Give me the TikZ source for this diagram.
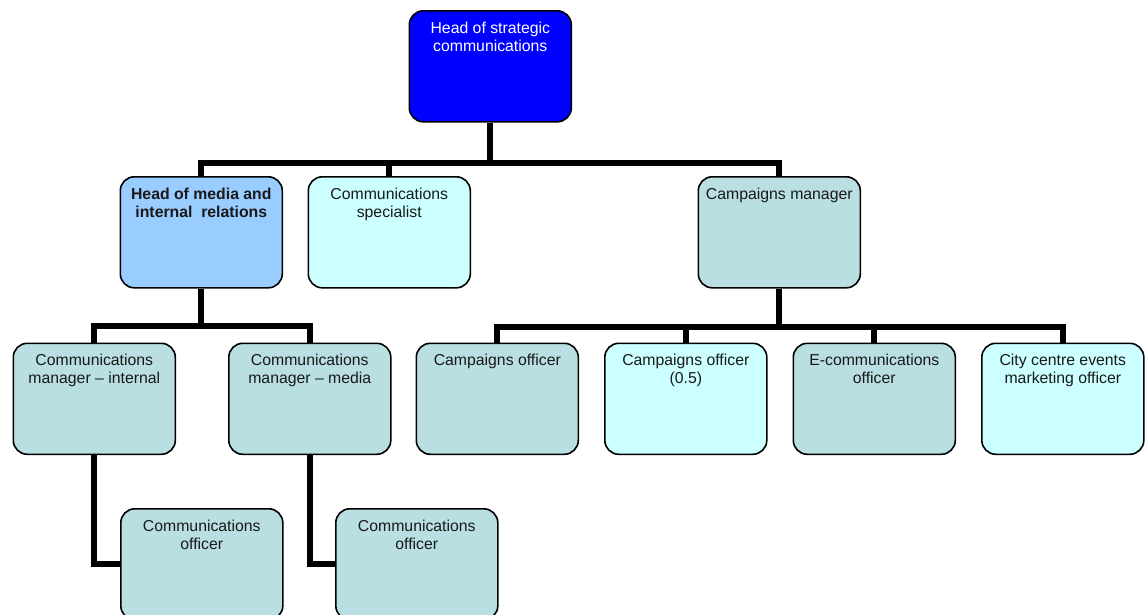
\documentclass[tikz,border=0pt]{standalone}
\usepackage{fontspec}
\setmainfont{Liberation Sans}
\definecolor{topblue}{HTML}{0000FF}
\definecolor{midblue}{HTML}{99CCFF}
\definecolor{lcyan}{HTML}{CCFFFF}
\definecolor{teal}{HTML}{B9DFE3}
\newcommand{\boxtext}[1]{\parbox[c][111pt][t]{158pt}{\centering\vspace*{9.5pt}\fontsize{15.8pt}{18.3pt}\selectfont\strut #1\par}}
\tikzset{
  orgbox/.style={draw=black, line width=1.6pt, rounded corners=14pt, rectangle,
    minimum width=162pt, minimum height=111pt, inner sep=0pt, anchor=north west,
    text=black!90},
  conn/.style={draw=black, line width=6pt, line join=miter}
}
\begin{document}
\begin{tikzpicture}[x=1pt,y=-1pt]
\useasboundingbox (0,0) rectangle (1146,614);
\clip (0,0) rectangle (1146,614);
% boxes
\node[orgbox, fill=topblue, text=white] (top) at (408.5,10) {\boxtext{Head of strategic\\communications}};
\node[orgbox, fill=midblue] (hm) at (119.5,176) {\boxtext{\bfseries Head of media and\\internal\ \ relations}};
\node[orgbox, fill=lcyan] (cs) at (307.5,176) {\boxtext{Communications\\specialist}};
\node[orgbox, fill=teal] (cmg) at (697.5,176) {\boxtext{Campaigns manager}};
\node[orgbox, fill=teal] (cmi) at (12.5,342.5) {\boxtext{Communications\\manager – internal}};
\node[orgbox, fill=teal] (cmm) at (228,342.5) {\boxtext{Communications\\manager – media}};
\node[orgbox, fill=teal] (co1) at (415.5,342.5) {\boxtext{Campaigns officer}};
\node[orgbox, fill=lcyan] (co2) at (604,342.5) {\boxtext{Campaigns officer\\(0.5)}};
\node[orgbox, fill=teal] (ecom) at (792.5,342.5) {\boxtext{E-communications\\officer}};
\node[orgbox, fill=lcyan] (city) at (981,342.5) {\boxtext{City centre events\\marketing officer}};
\node[orgbox, fill=teal] (of1) at (120,508) {\boxtext{Communications\\officer}};
\node[orgbox, fill=teal] (of2) at (335,508) {\boxtext{Communications\\officer}};
% connectors
\draw[conn] (top.south) -- ++(0,41.5);
\draw[conn] (hm.north) -- ++(0,-13.5) -| (cmg.north);
\draw[conn] (cs.north) -- ++(0,-13.5);
\draw[conn] (hm.south) -- ++(0,39);
\draw[conn] (cmi.north) -- ++(0,-16.5) -| (cmm.north);
\draw[conn] (cmg.south) -- ++(0,40);
\draw[conn] (co1.north) -- ++(0,-16) -| (city.north);
\draw[conn] (co2.north) -- ++(0,-16);
\draw[conn] (ecom.north) -- ++(0,-16);
\draw[conn] (cmi.south) |- (of1.west);
\draw[conn] (cmm.south) |- (of2.west);
\end{tikzpicture}
\end{document}
